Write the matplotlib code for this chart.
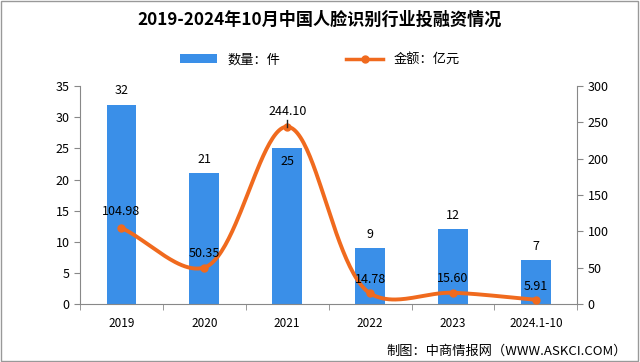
import matplotlib.pyplot as plt
import numpy as np

plt.rcParams['font.family'] = ['Noto Sans CJK SC', 'DejaVu Sans']

years = ['2019', '2020', '2021', '2022', '2023', '2024.1-10']
counts = [32, 21, 25, 9, 12, 7]
amounts = [104.98, 50.35, 244.10, 14.78, 15.60, 5.91]
count_labels = ['32', '21', '25', '9', '12', '7']
amount_labels = ['104.98', '50.35', '244.10', '14.78', '15.60', '5.91']

bar_color = '#3a8fe8'
line_color = '#f06a1e'


# smoothed line: centripetal Catmull-Rom worked out in screen-like units
def smooth(xs, ys, sx=83.0, sy=218 / 300, n=50):
    P = np.column_stack([np.asarray(xs, float) * sx, np.asarray(ys, float) * sy])
    P = np.vstack([2 * P[0] - P[1], P, 2 * P[-1] - P[-2]])
    pts = []
    for i in range(1, len(P) - 2):
        p0, p1, p2, p3 = P[i - 1], P[i], P[i + 1], P[i + 2]
        t0 = 0.0
        t1 = t0 + np.linalg.norm(p1 - p0) ** 0.5
        t2 = t1 + np.linalg.norm(p2 - p1) ** 0.5
        t3 = t2 + np.linalg.norm(p3 - p2) ** 0.5
        t = np.linspace(t1, t2, n)[:, None]
        a1 = (t1 - t) / (t1 - t0) * p0 + (t - t0) / (t1 - t0) * p1
        a2 = (t2 - t) / (t2 - t1) * p1 + (t - t1) / (t2 - t1) * p2
        a3 = (t3 - t) / (t3 - t2) * p2 + (t - t2) / (t3 - t2) * p3
        b1 = (t2 - t) / (t2 - t0) * a1 + (t - t0) / (t2 - t0) * a2
        b2 = (t3 - t) / (t3 - t1) * a2 + (t - t1) / (t3 - t1) * a3
        pts.append((t2 - t) / (t2 - t1) * b1 + (t - t1) / (t2 - t1) * b2)
    pts = np.vstack(pts)
    return pts[:, 0] / sx, pts[:, 1] / sy


fig = plt.figure(figsize=(6.4, 3.62), dpi=100)
ax = fig.add_axes([0.125, 0.16, 0.777, 0.602])
ax2 = ax.twinx()

x = np.arange(len(years))
ax.bar(x, counts, width=0.36, color=bar_color, label='数量：件', zorder=2)
ax.set_xlim(-0.5, len(years) - 0.5)
ax.set_ylim(0, 35)
ax.set_yticks(range(0, 36, 5))
ax.set_xticks(x)
ax.set_xticklabels(years)
ax.set_xticks(np.arange(-0.5, len(years), 1), minor=True)
ax.tick_params(axis='x', which='major', length=0, labelsize=8.5, pad=9)
ax.tick_params(axis='x', which='minor', length=4, color='#888888')
ax.tick_params(axis='y', labelsize=9, length=4, color='#888888')

for i, (c, lab) in enumerate(zip(counts, count_labels)):
    if i == 2:
        ax.text(i, c - 1.0, lab, ha='center', va='top', fontsize=9, zorder=5)
    else:
        ax.text(i, c + 1.2, lab, ha='center', va='bottom', fontsize=9, zorder=5)

sx, sy = smooth(x, amounts)
ax2.plot(sx, sy, color=line_color, lw=2.8, zorder=3, solid_capstyle='round')
ax2.plot(x, amounts, 'o', color=line_color, ms=5, zorder=4)
ax2.plot([], [], color=line_color, lw=2.5, marker='o', ms=5, label='金额：亿元')
ax2.set_ylim(0, 300)
ax2.set_yticks(range(0, 301, 50))
ax2.tick_params(axis='y', labelsize=9, length=4, color='#888888')

offsets = [14, 10, 12, 10, 10, 10]
for i, (a, lab) in enumerate(zip(amounts, amount_labels)):
    ax2.text(i, a + offsets[i], lab, ha='center', va='bottom', fontsize=9, zorder=5)
ax2.plot([2, 2], [amounts[2], amounts[2] + 9], color='#222222', lw=1, zorder=5)

for a in (ax, ax2):
    a.spines['top'].set_visible(False)
    for s in ('left', 'right', 'bottom'):
        a.spines[s].set_color('#888888')
ax.spines['right'].set_visible(False)
ax2.spines['left'].set_visible(False)
ax2.spines['bottom'].set_visible(False)

fig.text(0.5, 0.945, '2019-2024年10月中国人脸识别行业投融资情况', ha='center', va='center',
         fontsize=12.3, fontweight='bold')

h1, l1 = ax.get_legend_handles_labels()
h2, l2 = ax2.get_legend_handles_labels()
fig.legend(h1 + h2, l1 + l2, loc='center', bbox_to_anchor=(0.5, 0.835), ncol=2,
           frameon=False, fontsize=9.5, columnspacing=5, handlelength=2.8)

fig.text(0.98, 0.03, '制图：中商情报网（WWW.ASKCI.COM）', ha='right', va='center', fontsize=9.5)

fig.patches.append(plt.Rectangle((0.002, 0.004), 0.995, 0.992, transform=fig.transFigure,
                                 fill=False, edgecolor='#999999', lw=1))

fig.savefig('out.png', dpi=100)
